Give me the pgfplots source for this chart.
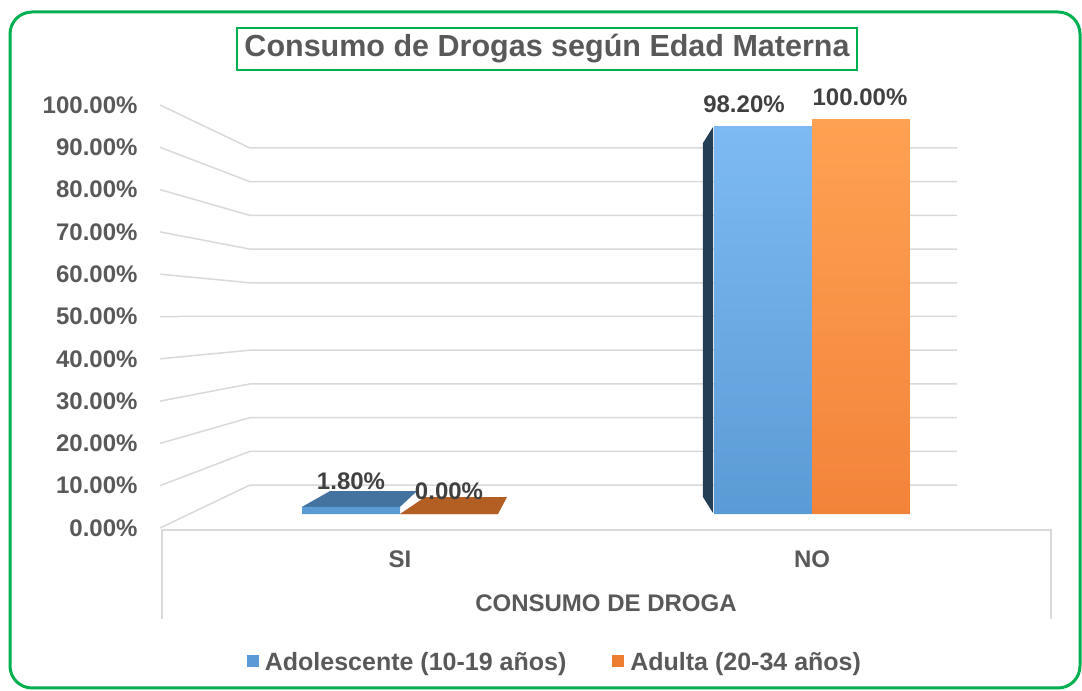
\documentclass[border=0pt]{standalone}
\usepackage{pgfplots}
\usepackage{pgfplotstable}
\pgfplotsset{compat=1.18}
\usepackage{fontspec}
\setmainfont{Liberation Sans}
\definecolor{frameG}{HTML}{00B050}
\definecolor{txt}{HTML}{595959}
\definecolor{lab}{HTML}{404040}
\definecolor{gridc}{HTML}{D9D9D9}
\definecolor{bTop}{HTML}{7DBAF3}
\definecolor{bBot}{HTML}{5B9BD5}
\definecolor{oTop}{HTML}{FFA152}
\definecolor{oBot}{HTML}{F2843A}
\definecolor{bLeg}{HTML}{5B9BD5}
\definecolor{oLeg}{HTML}{ED7D31}
\definecolor{bFace}{HTML}{44739F}
\definecolor{oFace}{HTML}{B35E22}
\definecolor{bSide}{HTML}{243F55}

\pgfplotstableread{
x y dx dy
0 1.8 0 26
1 98.2 -19 22
}\adol
\pgfplotstableread{
x y dx dy
0 0 0 23
1 100 -1 22
}\adul

\begin{document}
\begin{tikzpicture}[font=\bfseries]
\useasboundingbox (0,0) rectangle (1082bp,691bp);
\begin{axis}[
  at={(162bp,163bp)}, anchor=south west,
  scale only axis, width=889bp, height=423bp,
  xmin=-0.5777, xmax=1.5801,
  ymin=-3.544, ymax=103.546,
  clip=false,
  axis line style={draw=none},
  major tick length=0pt,
  xtick={0,1}, xticklabels={SI,NO},
  ytick={-3.544,7.165,17.874,28.583,39.292,50.001,60.710,71.419,82.128,92.837,103.546},
  yticklabels={0.00\%,10.00\%,20.00\%,30.00\%,40.00\%,50.00\%,60.00\%,70.00\%,80.00\%,90.00\%,100.00\%},
  ticklabel style={font=\fontsize{24bp}{28bp}\selectfont\bfseries, text=txt},
  yticklabel style={xshift=-21bp},
  xticklabel style={yshift=-19bp},
  xlabel={CONSUMO DE DROGA},
  xlabel style={at={(axis description cs:0.4994,-0.1773)}, anchor=center, font=\fontsize{24bp}{28bp}\selectfont\bfseries, text=txt},
  ybar=0pt, bar width=98bp,
  nodes near coords={\pgfmathprintnumber[fixed,fixed zerofill,precision=2,assume math mode=true]{\pgfplotspointmeta}\%},
  every node near coord/.append style={font=\fontsize{24bp}{28bp}\selectfont\bfseries, text=lab},
  legend style={at={(axis description cs:0.442,-0.3168)}, anchor=center, draw=none, fill=none,
    font=\fontsize{25bp}{29bp}\selectfont\bfseries, text=txt, legend columns=2,
    /tikz/every even column/.append style={column sep=44bp}},
]
\pgfplotsinvokeforeach{0,10,...,100}{
  \draw[gridc, line width=1.5bp] (axis cs:-0.5825,{(-14+4.23*#1)/3.95}) -- (axis cs:-0.3641,{7.342+0.8532*#1}) -- (axis cs:1.3519,{7.342+0.8532*#1});
}
\draw[gridc, line width=1.5bp] (axis cs:-0.5777,-26.58) -- (axis cs:-0.5777,-4.05) -- (axis cs:1.5801,-4.05) -- (axis cs:1.5801,-26.58);
\fill[oFace] (axis cs:0,0) -- (axis cs:0.2379,0) -- (axis cs:0.2597,4.30) -- (axis cs:0.0607,4.30) -- cycle;
\fill[bFace] (axis cs:-0.2379,1.8) -- (axis cs:0,1.8) -- (axis cs:0.0413,5.82) -- (axis cs:-0.1699,5.82) -- cycle;
\fill[bSide] (axis cs:0.7597,97.97) -- (axis cs:0.7354,93.92) -- (axis cs:0.7354,4.30) -- (axis cs:0.7597,0.25) -- cycle;

\addplot[draw=none, top color=bTop, bottom color=bBot,
  visualization depends on={\thisrow{dx}\as\ldx},
  visualization depends on={\thisrow{dy}\as\ldy},
  every node near coord/.append style={anchor=center, xshift=\ldx bp, yshift=\ldy bp},
  legend image code/.code={\pgfpathrectangle{\pgfpoint{0bp}{-5.4bp}}{\pgfpoint{12bp}{12bp}}\pgfsetfillcolor{bLeg}\pgfusepath{fill} \path (0bp,0bp) -- (16bp,0bp);}]
  table[x=x,y=y]{\adol};
\addlegendentry{Adolescente (10-19 años)}
\addplot[draw=none, top color=oTop, bottom color=oBot,
  visualization depends on={\thisrow{dx}\as\ldx},
  visualization depends on={\thisrow{dy}\as\ldy},
  every node near coord/.append style={anchor=center, xshift=\ldx bp, yshift=\ldy bp},
  legend image code/.code={\pgfpathrectangle{\pgfpoint{0bp}{-5.4bp}}{\pgfpoint{12bp}{12bp}}\pgfsetfillcolor{oLeg}\pgfusepath{fill} \path (0bp,0bp) -- (16bp,0bp);}]
  table[x=x,y=y]{\adul};
\addlegendentry{Adulta (20-34 años)}
\end{axis}
\node[draw=frameG, line width=2bp, minimum width=620bp, minimum height=42bp, inner sep=0pt, text=txt, font=\fontsize{30.5bp}{34bp}\selectfont\bfseries] at (547bp,642bp) {Consumo de Drogas según Edad Materna};
\draw[frameG, line width=3bp, rounded corners=22bp] (10bp,3bp) rectangle (1080bp,679bp);
\end{tikzpicture}
\end{document}
